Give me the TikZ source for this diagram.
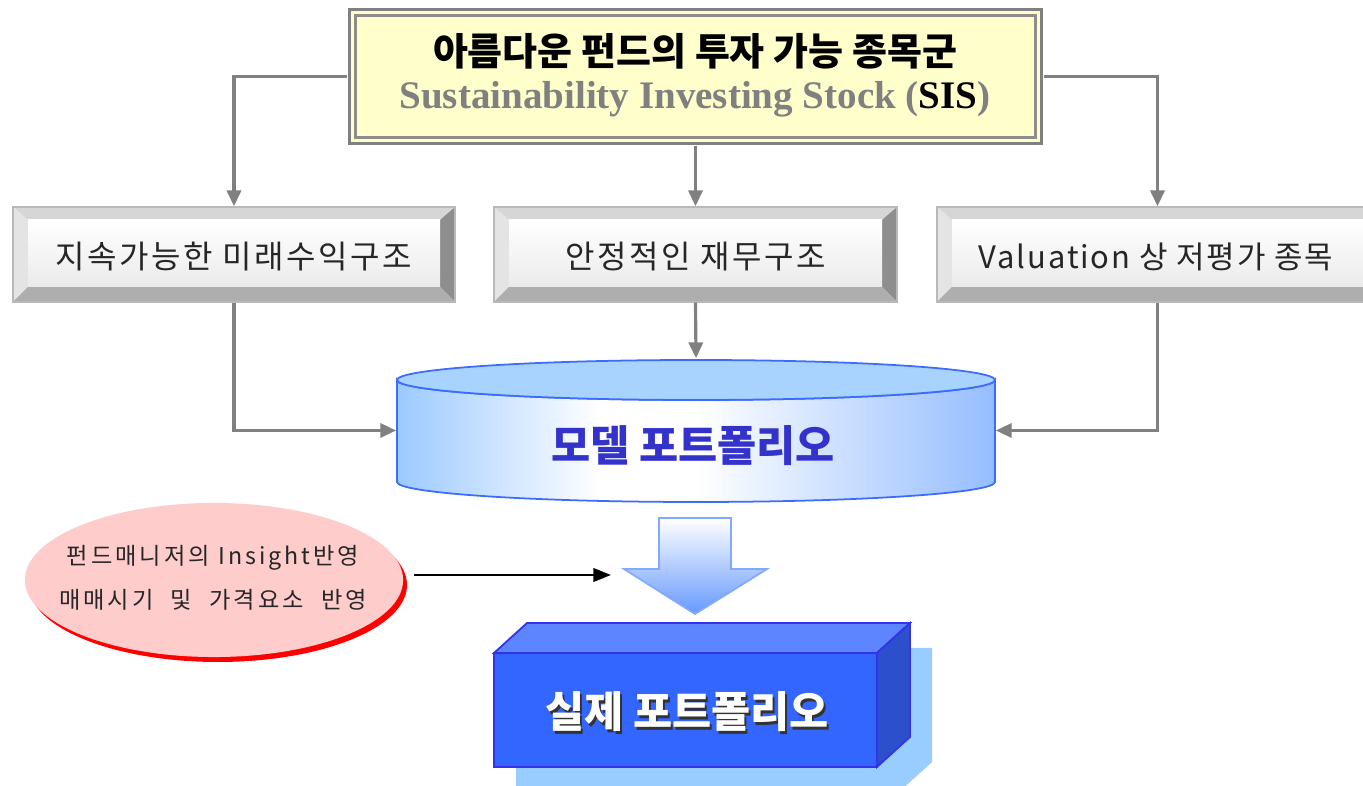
\documentclass[tikz,border=0pt]{standalone}
\usepackage{fontspec}
\newfontfamily\kr{Noto Sans CJK KR}
\newfontfamily\tms{Liberation Serif}
\usetikzlibrary{arrows.meta,shapes.geometric}
\definecolor{titlefill}{HTML}{FFFFCC}
\definecolor{lngray}{HTML}{808080}
\definecolor{cyltop}{HTML}{A8D3FF}
\definecolor{cylside}{HTML}{9CCAFF}
\definecolor{cylline}{HTML}{3D6BFF}
\definecolor{modeltxt}{HTML}{3333CC}
\definecolor{arrblue}{HTML}{6699FF}
\definecolor{arrline}{HTML}{80AAFF}
\definecolor{pinkfill}{HTML}{FFCCCC}
\definecolor{boxfront}{HTML}{3366FF}
\definecolor{boxtop}{HTML}{5C85FF}
\definecolor{boxright}{HTML}{2C50CC}
\definecolor{boxedge}{HTML}{3333EE}
\definecolor{boxshadow}{HTML}{99CCFF}
\definecolor{bvtopc}{HTML}{D6D6D6}
\definecolor{bvleftc}{HTML}{E4E4E4}
\definecolor{bvrightc}{HTML}{8E8E8E}
\definecolor{bvbotc}{HTML}{AEAEAE}
\pgfdeclarehorizontalshading{cylshade}{100bp}{color(0bp)=(cylside); color(25bp)=(cylside); color(42bp)=(white); color(50bp)=(white); color(75bp)=(cylside!92!blue!95); color(100bp)=(cylside)}
\newcommand\mybevel[4]{%
  \fill[bvtopc] (#1,#2) -- (#3,#2) -- (#3-15,#2+13) -- (#1+15,#2+13) -- cycle;
  \fill[bvleftc] (#1,#2) -- (#1+15,#2+13) -- (#1+15,#4-15) -- (#1,#4) -- cycle;
  \fill[bvrightc] (#3,#2) -- (#3-15,#2+13) -- (#3-15,#4-15) -- (#3,#4) -- cycle;
  \fill[bvbotc] (#1,#4) -- (#1+15,#4-15) -- (#3-15,#4-15) -- (#3,#4) -- cycle;
  \shade[top color=white,bottom color=gray!16] (#1+15,#2+13) rectangle (#3-15,#4-15);
  \draw[gray!55,line width=0.3pt] (#1,#2) rectangle (#3,#4);
}
\tikzset{
  conn/.style={draw=lngray,line width=0.9pt,-{Triangle[length=4.5pt,width=4pt]}},
  boxtxt/.style={font=\kr\addfontfeature{LetterSpace=8}\fontsize{9.1pt}{11pt}\selectfont,text=black!85},
  elltxt/.style={inner sep=0pt,font=\kr\addfontfeature{LetterSpace=13}\fontsize{6.6pt}{8pt}\selectfont,text=black!85},
  bigtxt/.style={inner sep=0pt,font=\kr\bfseries\fontsize{12.1pt}{14pt}\selectfont},
  ghost/.style={inner sep=0pt,draw=none}
}
\begin{document}
\begin{tikzpicture}[x=0.01cm,y=-0.01cm]
\useasboundingbox (0,0) rectangle (1363,786);
\clip (0,0) rectangle (1363,786);
% title box
\fill[titlefill] (348,8) rectangle (1043,145);
\draw[lngray,line width=1.1pt] (349.5,9.5) rectangle (1041.5,143.5);
\draw[lngray!90,line width=0.6pt] (355.5,15.5) rectangle (1035.5,137.5);
\node[ghost,minimum width=6.95cm,minimum height=1.37cm] (title) at (695.5,76.5) {};
\node[inner sep=0pt,font=\kr\bfseries\fontsize{10.8pt}{12pt}\selectfont] (t1) at (695,51) {아름다운 펀드의 투자 가능 종목군};
\node[inner sep=0pt,font=\tms\bfseries\fontsize{11.1pt}{13pt}\selectfont,text=lngray] (t2) at (695,99) {Sustainability Investing Stock (\textcolor{black}{SIS})};
% bevel boxes
\mybevel{13}{207}{455}{302}
\mybevel{494}{207}{897}{302}
\mybevel{937}{207}{1378}{302}
\node[ghost,minimum width=4.42cm,minimum height=0.95cm] (b1) at (234,254.5) {};
\node[ghost,minimum width=4.03cm,minimum height=0.95cm] (b2) at (695.5,254.5) {};
\node[ghost,minimum width=4.41cm,minimum height=0.95cm] (b3) at (1157.5,254.5) {};
\node[boxtxt] at (234,257) {지속가능한 미래수익구조};
\node[boxtxt] at (696,257) {안정적인 재무구조};
\node[boxtxt,font=\kr\addfontfeature{LetterSpace=6}\fontsize{8.8pt}{11pt}\selectfont] at (1156,257) {Valuation 상 저평가 종목};
% cylinder
\shade[shading=cylshade,draw=cylline,line width=0.5pt] (397,380) -- (397,482) arc[start angle=180,end angle=0,x radius=299,y radius=20] -- (995,380) arc[start angle=0,end angle=180,x radius=299,y radius=20] -- cycle;
\filldraw[fill=cyltop,draw=cylline,line width=0.5pt] (696,380) ellipse [x radius=299,y radius=20];
\node[ghost,minimum width=5.98cm,minimum height=1.43cm] (cyl) at (696,430.5) {};
\node[bigtxt,text=modeltxt] at (693,446) {모델 포트폴리오};
% connectors
\draw[conn] (title.west) -| (b1.north);
\draw[conn] (title.east) -| (b3.north);
\draw[conn] (title.south) -- (b2.north);
\draw[conn] (b1.south) |- (cyl.west);
\draw[conn] (b2.south) -- (cyl.north);
\draw[conn] (b3.south) |- (cyl.east);
% big down arrow
\shade[top color=white,bottom color=arrblue,draw=arrline,line width=0.5pt] (659,518) -- (731,518) -- (731,569) -- (767,569) -- (695,614) -- (624,569) -- (659,569) -- cycle;
\node[ghost,minimum width=1.43cm,minimum height=0.96cm] (bigarr) at (695.5,566) {};
% ellipse
\fill[red] (218,585) ellipse [x radius=189,y radius=77];
\node[ellipse,fill=pinkfill,inner sep=0pt,minimum width=3.78cm,minimum height=1.54cm] (ell) at (214,580) {};
\node[elltxt] at (213,558) {펀드매니저의 Insight반영};
\node[elltxt] at (213,600) {매매시기\hspace{0.09cm} 및\hspace{0.09cm} 가격요소\hspace{0.09cm} 반영};
\coordinate (as) at (414,575);
\coordinate (ae) at (611,575);
\draw[black,line width=0.75pt,-{Triangle[length=5pt,width=3.8pt]}] (as) -- (ae);
% real portfolio box
\fill[boxshadow] (516,678) -- (549,648) -- (932,648) -- (932,762) -- (899,792) -- (516,792) -- cycle;
\filldraw[fill=boxtop,draw=boxedge,line width=0.5pt] (494,653) -- (527,623) -- (910,623) -- (877,653) -- cycle;
\filldraw[fill=boxright,draw=boxedge,line width=0.5pt] (877,653) -- (910,623) -- (910,737) -- (877,767) -- cycle;
\filldraw[fill=boxfront,draw=boxedge,line width=0.5pt] (494,653) rectangle (877,767);
\node[ghost,minimum width=3.83cm,minimum height=1.14cm] (rb) at (685.5,710) {};
\node[bigtxt,text=black!80] at (689,715) {실제 포트폴리오};
\node[bigtxt,text=white] at (687,712) {실제 포트폴리오};
\end{tikzpicture}
\end{document}
